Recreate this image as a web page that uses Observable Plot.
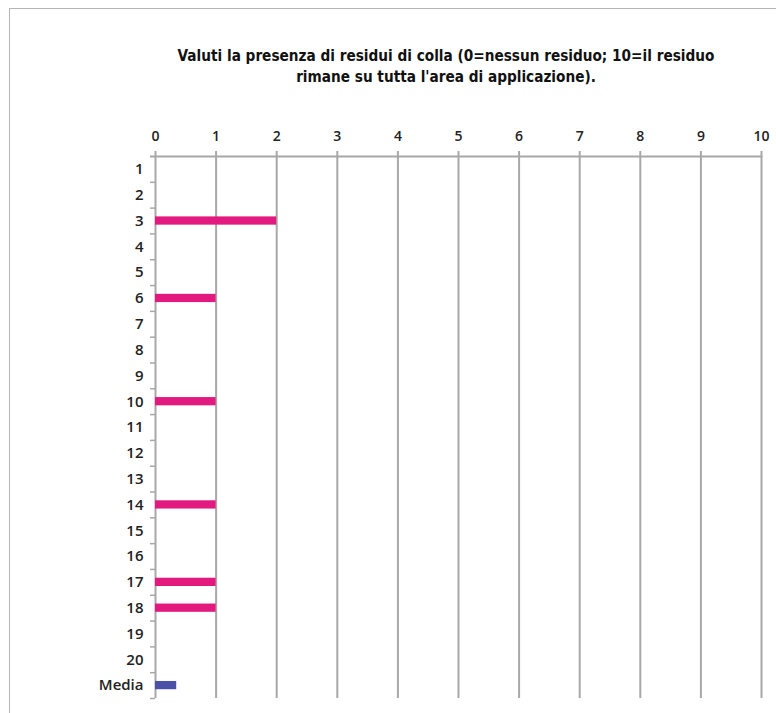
<!DOCTYPE html>
<html>
<head>
<meta charset="utf-8">
<script src="https://cdn.jsdelivr.net/npm/d3@7"></script>
<script src="https://cdn.jsdelivr.net/npm/@observablehq/plot@0.6"></script>
<style>
  html, body { margin: 0; padding: 0; background: #fff; }
  #wrap { position: relative; width: 776px; height: 713px; overflow: hidden; }
  #frame { position: absolute; left: 9px; top: 8px; width: 900px; height: 900px;
           border-left: 1.5px solid #b5b5b5; border-top: 1.5px solid #b5b5b5; }
  #title { position: absolute; left: 146px; width: 600px; top: 46px; text-align: center;
           font-family: "DejaVu Sans Condensed", "DejaVu Sans", sans-serif; font-weight: bold;
           font-size: 15.2px; line-height: 21px; color: #111; }
  #chart { position: absolute; left: 0; top: 0; }
</style>
</head>
<body>
<div id="wrap">
  <div id="frame"></div>
  <div id="chart"></div>
  <div id="title">Valuti la presenza di residui di colla (0=nessun residuo; 10=il residuo<br>rimane su tutta l'area di applicazione).</div>
</div>
<script>
// Scores given by each respondent (0–10) and their mean
const respondents = ["1","2","3","4","5","6","7","8","9","10","11","12","13","14","15","16","17","18","19","20"];
const scores = [0,0,2,0,0,1,0,0,0,1,0,0,0,1,0,0,1,1,0,0];
const meanLabel = "Media";
const meanScore = 0.35;
const xTicks = [0,1,2,3,4,5,6,7,8,9,10];

const rows = [...respondents, meanLabel];
const data = [
  ...respondents.map((r, i) => ({row: r, value: scores[i], kind: "score"})),
  {row: meanLabel, value: meanScore, kind: "mean"}
];

const W = 776, H = 713;
const mt = 156, mb = 15, ml = 155, mr = 15;
const step = (H - mt - mb) / rows.length;
const grey = "#a8a8a8";

const chart = Plot.plot({
  width: W,
  height: H,
  marginTop: mt,
  marginBottom: mb,
  marginLeft: ml,
  marginRight: mr,
  style: {fontFamily: "'Open Sans', sans-serif", fontSize: "14px", fontWeight: 600, color: "#222", background: "transparent"},
  x: {domain: [0, 10], axis: null},
  y: {domain: rows, paddingInner: 0.68, paddingOuter: 0.34, round: false, axis: null},
  color: {domain: ["score", "mean"], range: ["#e2197f", "#4b4fa6"]},
  marks: [
    // vertical grid
    Plot.ruleX(xTicks, {stroke: grey, strokeWidth: 2}),
    // top axis line
    Plot.ruleY([rows[0]], {y: d => d, dy: -step / 2, x1: 0, x2: 10, insetLeft: -5, stroke: grey, strokeWidth: 2}),
    // row separators on the left axis
    Plot.ruleY(rows, {y: d => d, dy: step / 2, x1: 0, x2: 0, insetLeft: -5, stroke: grey, strokeWidth: 1.5}),
    Plot.axisX({anchor: "top", ticks: xTicks, label: null, tickSize: 6, tickPadding: 10, stroke: grey, strokeWidth: 2, fill: "#222", fontSize: 14}),
    Plot.axisY({anchor: "left", label: null, tickSize: 0, tickPadding: 12, fill: "#222", fontSize: 15}),
    Plot.barX(data, {
      y: "row", x1: 0, x2: "value", fill: "kind",
      style: {filter: "drop-shadow(1px 2px 1.5px rgba(0,0,0,0.25))"}
    })
  ]
});

document.getElementById("chart").appendChild(chart);
</script>
</body>
</html>
